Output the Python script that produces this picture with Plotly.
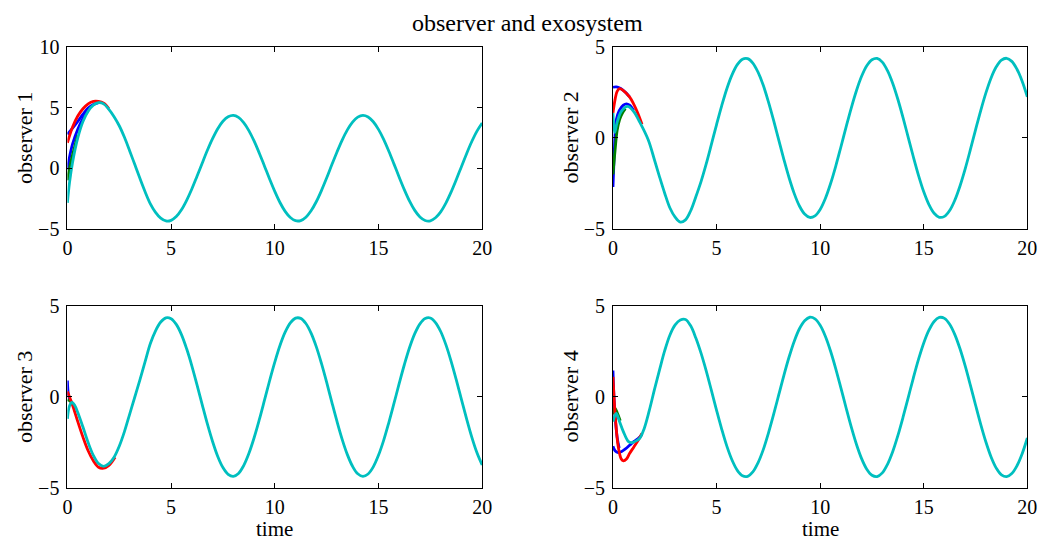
import plotly.graph_objects as go

# ---------------- data ----------------
t_steady = [4.0, 4.25, 4.5, 4.75, 5.0, 5.25, 5.5, 5.75, 6.0, 6.25, 6.5, 6.75, 7.0, 7.25,
            7.5, 7.75, 8.0, 8.25, 8.5, 8.75, 9.0, 9.25, 9.5, 9.75, 10.0, 10.25, 10.5,
            10.75, 11.0, 11.25, 11.5, 11.75, 12.0, 12.25, 12.5, 12.75, 13.0, 13.25,
            13.5, 13.75, 14.0, 14.25, 14.5, 14.75, 15.0, 15.25, 15.5, 15.75, 16.0,
            16.25, 16.5, 16.75, 17.0, 17.25, 17.5, 17.75, 18.0, 18.25, 18.5, 18.75,
            19.0, 19.25, 19.5, 19.75, 20.0]

# observer 1
obs1_t_early = [0, 0.1, 0.25, 0.5, 0.75, 1.0, 1.25, 1.5, 1.75, 2.0, 2.25, 2.5, 2.75, 3.0, 3.25, 3.5, 3.75]
obs1_cyan_early = [-2.85, -1.2, 0.5, 2.5, 3.85, 4.7, 5.2, 5.4, 5.3, 4.85, 4.25, 3.5, 2.55, 1.45, 0.3, -0.85, -1.95]
obs1_cyan_steady = [-2.93, -3.63, -4.11, -4.34, -4.29, -3.98, -3.42, -2.64, -1.71, -0.66, 0.42,
                    1.48, 2.44, 3.26, 3.87, 4.24, 4.35, 4.19, 3.76, 3.10, 2.25, 1.26, 0.19,
                    -0.89, -1.91, -2.82, -3.55, -4.06, -4.32, -4.31, -4.03, -3.50, -2.76,
                    -1.84, -0.81, 0.28, 1.34, 2.32, 3.16, 3.80, 4.21, 4.35, 4.22, 3.83, 3.20,
                    2.38, 1.40, 0.34, -0.74, -1.78, -2.71, -3.47, -4.01, -4.30, -4.33, -4.08,
                    -3.59, -2.87, -1.97, -0.95, 0.13, 1.20, 2.20, 3.06, 3.73]
obs1_blue_a_t = [0, 0.25, 0.5, 0.75, 1.0, 1.25, 1.5]
obs1_blue_a = [2.8, 3.3, 3.85, 4.45, 4.95, 5.25, 5.4]
obs1_blue_b_t = [0, 0.1, 0.25, 0.5, 0.75, 1.0]
obs1_blue_b = [-0.1, 0.9, 2.0, 3.2, 4.1, 4.75]
obs1_green_t = [0, 0.1, 0.25, 0.5]
obs1_green = [-1.0, 0.0, 1.1, 2.7]
obs1_red_t = [0, 0.25, 0.5, 0.75, 1.0, 1.25, 1.5, 1.75, 2.0]
obs1_red = [2.1, 3.4, 4.3, 4.9, 5.3, 5.5, 5.5, 5.35, 4.9]

# observer 2
obs2_t_early = [0, 0.08, 0.2, 0.4, 0.7, 1.0, 1.3, 1.7, 2.0, 2.25, 2.5, 2.75, 3.0, 3.25, 3.5, 3.75]
obs2_cyan_early = [1.37, 0.3, 0.85, 1.45, 1.73, 1.45, 0.85, -0.1, -1.2, -2.15, -3.05, -3.85, -4.35, -4.62, -4.5, -4.0]
obs2_cyan_steady = [-3.23, -2.40, -1.43, -0.36, 0.73, 1.77, 2.71, 3.47, 4.02, 4.32, 4.35, 4.11,
                    3.61, 2.90, 1.99, 0.97, -0.11, -1.19, -2.19, -3.06, -3.74, -4.18, -4.37,
                    -4.28, -3.93, -3.33, -2.52, -1.56, -0.50, 0.59, 1.64, 2.59, 3.38, 3.96,
                    4.29, 4.36, 4.16, 3.69, 3.00, 2.12, 1.11, 0.03, -1.05, -2.07, -2.96, -3.66,
                    -4.14, -4.36, -4.31, -3.99, -3.42, -2.64, -1.70, -0.65, 0.44, 1.50, 2.47,
                    3.29, 3.90, 4.27, 4.37, 4.20, 3.77, 3.11, 2.25]
obs2_blue_a_t = [0, 0.15, 0.3, 0.45, 0.6, 0.8]
obs2_blue_a = [2.78, 2.8, 2.75, 2.65, 2.5, 2.25]
obs2_blue_b_t = [0, 0.05, 0.1, 0.16, 0.3, 0.5, 0.65, 0.8, 1.0]
obs2_blue_b = [-2.7, -1.2, 0.2, 1.0, 1.5, 1.8, 1.87, 1.8, 1.5]
obs2_green_t = [0, 0.1, 0.2, 0.32, 0.45, 0.6]
obs2_green = [-2.0, -0.7, 0.4, 1.0, 1.35, 1.6]
obs2_red_t = [0, 0.1, 0.2, 0.32, 0.5, 0.8, 1.0, 1.2, 1.4]
obs2_red = [1.37, 2.1, 2.55, 2.7, 2.6, 2.25, 1.85, 1.35, 0.75]

# observer 3
obs3_t_early = [0, 0.1, 0.22, 0.35, 0.5, 0.75, 1.0, 1.25, 1.5, 1.75, 2.0, 2.25, 2.5, 2.75, 3.0, 3.25, 3.5, 3.75]
obs3_cyan_early = [-1.2, -0.5, -0.3, -0.45, -0.85, -1.65, -2.5, -3.2, -3.65, -3.8, -3.65, -3.3, -2.7, -1.9, -0.95, 0.0, 0.95, 1.95]
obs3_cyan_steady = [2.93, 3.63, 4.11, 4.34, 4.29, 3.98, 3.42, 2.64, 1.71, 0.66, -0.42,
                    -1.48, -2.44, -3.26, -3.87, -4.24, -4.35, -4.19, -3.76, -3.10, -2.25,
                    -1.26, -0.19, 0.89, 1.91, 2.82, 3.55, 4.06, 4.32, 4.31, 4.03, 3.50, 2.76,
                    1.84, 0.81, -0.28, -1.34, -2.32, -3.16, -3.80, -4.21, -4.35, -4.22, -3.83,
                    -3.20, -2.38, -1.40, -0.34, 0.74, 1.78, 2.71, 3.47, 4.01, 4.30, 4.33, 4.08,
                    3.59, 2.87, 1.97, 0.95, -0.13, -1.20, -2.20, -3.06, -3.73]
obs3_blue_t = [0, 0.04, 0.1, 0.2, 0.35]
obs3_blue = [0.9, 0.2, -0.1, -0.3, -0.6]
obs3_green_t = [0, 0.1, 0.2, 0.3]
obs3_green = [-0.15, -0.2, -0.3, -0.4]
obs3_red_t = [0, 0.25, 0.5, 0.75, 1.0, 1.25, 1.5, 1.75, 2.0, 2.3]
obs3_red = [0.3, -0.45, -1.35, -2.2, -2.95, -3.5, -3.85, -3.9, -3.75, -3.3]

# observer 4
obs4_t_early = [0, 0.15, 0.3, 0.5, 0.75, 0.9, 1.1, 1.3, 1.5, 1.75, 2.0, 2.25, 2.5, 2.75, 3.0, 3.25, 3.5, 3.75]
obs4_cyan_early = [-1.35, -0.9, -1.3, -1.9, -2.45, -2.5, -2.42, -2.25, -1.75, -0.75, 0.4, 1.5, 2.55, 3.4, 3.95, 4.22, 4.25, 3.9]
obs4_cyan_steady = [3.23, 2.40, 1.43, 0.36, -0.73, -1.77, -2.71, -3.47, -4.02, -4.32, -4.35,
                    -4.11, -3.61, -2.90, -1.99, -0.97, 0.11, 1.19, 2.19, 3.06, 3.74, 4.18, 4.37,
                    4.28, 3.93, 3.33, 2.52, 1.56, 0.50, -0.59, -1.64, -2.59, -3.38, -3.96,
                    -4.29, -4.36, -4.16, -3.69, -3.00, -2.12, -1.11, -0.03, 1.05, 2.07, 2.96,
                    3.66, 4.14, 4.36, 4.31, 3.99, 3.42, 2.64, 1.70, 0.65, -0.44, -1.50, -2.47,
                    -3.29, -3.90, -4.27, -4.37, -4.20, -3.77, -3.11, -2.25]
obs4_blue_a_t = [0, 0.04, 0.1, 0.2, 0.3]
obs4_blue_a = [1.45, 0.2, -1.0, -2.2, -2.8]
obs4_blue_b_t = [0, 0.1, 0.25, 0.4, 0.6, 0.8, 1.0, 1.2, 1.4]
obs4_blue_b = [-2.7, -2.95, -3.05, -3.0, -2.85, -2.65, -2.45, -2.3, -2.05]
obs4_green_t = [0, 0.08, 0.2, 0.35]
obs4_green = [-0.95, -0.6, -0.85, -1.3]
obs4_red_t = [0, 0.05, 0.12, 0.25, 0.4, 0.5, 0.65, 0.8, 1.0, 1.2, 1.4]
obs4_red = [1.1, 0.0, -1.2, -2.7, -3.4, -3.5, -3.4, -3.1, -2.75, -2.4, -2.0]

y_labels = ["observer 1", "observer 2", "observer 3", "observer 4"]
x_ticks = [0, 5, 10, 15, 20]
y_ranges = [[-5, 10], [-5, 5], [-5, 5], [-5, 5]]
title_text = "observer and exosystem"
x_label = "time"

# ---------------- styling ----------------
BLUE, GREEN, RED, CYAN = "#0000FF", "#008000", "#FF0000", "#00BFBF"
LW = 2.8
FONT = "Liberation Serif"
W, H = 1061, 552

panels = [
    dict(cyan=(obs1_t_early + t_steady, obs1_cyan_early + obs1_cyan_steady),
         lines=[((obs1_blue_a_t, obs1_blue_a), BLUE), ((obs1_blue_b_t, obs1_blue_b), BLUE),
                ((obs1_green_t, obs1_green), GREEN), ((obs1_red_t, obs1_red), RED)]),
    dict(cyan=(obs2_t_early + t_steady, obs2_cyan_early + obs2_cyan_steady),
         lines=[((obs2_blue_a_t, obs2_blue_a), BLUE), ((obs2_blue_b_t, obs2_blue_b), BLUE),
                ((obs2_green_t, obs2_green), GREEN), ((obs2_red_t, obs2_red), RED)]),
    dict(cyan=(obs3_t_early + t_steady, obs3_cyan_early + obs3_cyan_steady),
         lines=[((obs3_blue_t, obs3_blue), BLUE),
                ((obs3_green_t, obs3_green), GREEN), ((obs3_red_t, obs3_red), RED)]),
    dict(cyan=(obs4_t_early + t_steady, obs4_cyan_early + obs4_cyan_steady),
         lines=[((obs4_blue_a_t, obs4_blue_a), BLUE), ((obs4_blue_b_t, obs4_blue_b), BLUE),
                ((obs4_green_t, obs4_green), GREEN), ((obs4_red_t, obs4_red), RED)]),
]

# pixel boxes of the four axes: (left, right, top, bottom)
boxes = [(63.3, 484.0, 37.3, 227.0), (616.7, 1037.0, 37.3, 227.0),
         (63.3, 484.0, 307.0, 497.0), (616.7, 1037.0, 307.0, 497.0)]

fig = go.Figure()
layout = dict(width=W, height=H, margin=dict(l=0, r=0, t=0, b=0),
              paper_bgcolor="white", plot_bgcolor="white", showlegend=False,
              annotations=[])

for i, (p, box) in enumerate(zip(panels, boxes)):
    n = i + 1
    xa = "x" if n == 1 else f"x{n}"
    ya = "y" if n == 1 else f"y{n}"
    for (tx, vy), col in p["lines"]:
        fig.add_trace(go.Scatter(x=tx, y=vy, mode="lines", xaxis=xa, yaxis=ya,
                                 line=dict(color=col, width=LW, shape="spline", smoothing=1.0),
                                 hoverinfo="skip"))
    fig.add_trace(go.Scatter(x=p["cyan"][0], y=p["cyan"][1], mode="lines", xaxis=xa, yaxis=ya,
                             line=dict(color=CYAN, width=LW, shape="spline", smoothing=1.0),
                             hoverinfo="skip"))
    l, r, t, b = box
    common = dict(ticks="inside", ticklen=5, tickcolor="black", tickwidth=1,
                  showline=True, linecolor="black", linewidth=1, mirror="allticks",
                  showgrid=False, zeroline=False,
                  tickfont=dict(family=FONT, size=20, color="black"))
    layout["xaxis" if n == 1 else f"xaxis{n}"] = dict(
        domain=[l / W, r / W], anchor=ya, range=[0, 20], tickvals=x_ticks,
        ticklabelstandoff=1, **common)
    yr = y_ranges[i]
    layout["yaxis" if n == 1 else f"yaxis{n}"] = dict(
        domain=[1 - b / H, 1 - t / H], anchor=xa, range=yr,
        tickvals=list(range(yr[0], yr[1] + 1, 5)), ticklabelstandoff=3, **common)
    # y label
    layout["annotations"].append(dict(
        text=y_labels[i], x=(l - 43) / W, y=1 - (t + b) / 2 / H, xref="paper", yref="paper",
        textangle=-90, showarrow=False, xanchor="center", yanchor="middle",
        font=dict(family=FONT, size=22, color="black")))
    if n >= 3:
        layout["annotations"].append(dict(
            text=x_label, x=(l + r) / 2 / W, y=1 - 540 / H, xref="paper", yref="paper",
            showarrow=False, xanchor="center", yanchor="middle",
            font=dict(family=FONT, size=21, color="black")))

layout["annotations"].append(dict(
    text=title_text, x=530 / W, y=1 - 13 / H, xref="paper", yref="paper",
    showarrow=False, xanchor="center", yanchor="middle",
    font=dict(family=FONT, size=24, color="black")))

fig.update_layout(**layout)
fig.write_html("out.html")
